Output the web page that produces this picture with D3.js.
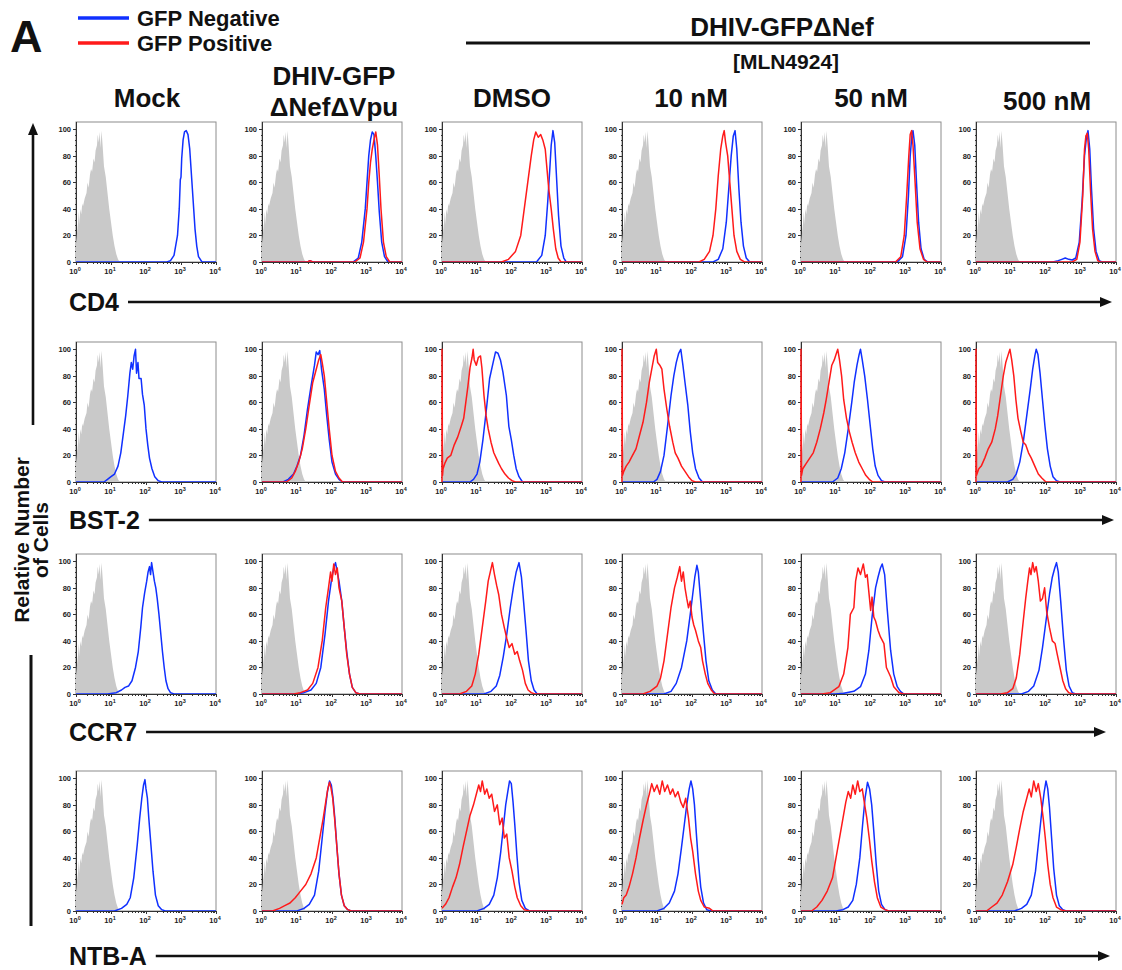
<!DOCTYPE html>
<html>
<head>
<meta charset="utf-8">
<script src="https://cdn.jsdelivr.net/npm/d3@7/dist/d3.min.js"></script>
<style>
  body { margin: 0; background: #fff; }
  svg text { font-family: "Liberation Sans", Arial, sans-serif; font-weight: bold; fill: #111; }
  .axis path, .axis line { stroke: #333; shape-rendering: crispEdges; }
  .axis text { font-size: 7.5px; fill: #222; }
</style>
</head>
<body>
<div id="graphic"></div>
<script>
// Row markers and column conditions
var markers = ['CD4', 'BST-2', 'CCR7', 'NTB-A'];
var conditions = ['Mock', 'DHIV-GFP\nΔNefΔVpu', 'DMSO', '10 nM', '50 nM', '500 nM'];
var legendLabels = ['GFP Negative', 'GFP Positive'];
var xTickExponents = [0, 1, 2, 3, 4];
var yTickValues = [0, 20, 40, 60, 80, 100];

// Histograms: [log10 fluorescence, % of max]
var isotypeControl = [[0,14],[0.03,22],[0.06,30],[0.08,38],[0.1,28],[0.12,40],[0.15,36],[0.18,44],[0.2,42],[0.25,48],[0.3,52],[0.33,60],[0.36,56],[0.4,66],[0.43,70],[0.46,68],[0.5,78],[0.53,75],[0.56,84],[0.6,88],[0.62,96],[0.65,90],[0.68,98],[0.7,86],[0.73,99],[0.76,88],[0.8,72],[0.85,64],[0.9,52],[0.95,40],[1.0,30],[1.05,20],[1.1,12],[1.15,6],[1.2,2],[1.25,0]];

var cd4Negative = [
  [[2.6,0],[2.7,1],[2.8,5],[2.9,20],[2.95,40],[2.98,62],[3.0,64],[3.02,78],[3.06,92],[3.1,98],[3.15,99],[3.2,96],[3.25,85],[3.3,65],[3.35,45],[3.4,25],[3.45,12],[3.5,4],[3.6,0]],
  [[1.3,0],[1.37,1],[1.45,0],[2.6,0],[2.75,3],[2.85,15],[2.95,40],[3.0,60],[3.05,80],[3.1,92],[3.15,98],[3.2,96],[3.25,80],[3.3,60],[3.35,38],[3.42,15],[3.5,4],[3.6,0]],
  [[2.7,0],[2.85,5],[2.95,20],[3.02,45],[3.08,70],[3.12,88],[3.17,99],[3.22,90],[3.27,65],[3.33,35],[3.4,12],[3.48,3],[3.55,0]],
  [[2.6,0],[2.75,2],[2.88,10],[2.98,30],[3.05,55],[3.12,80],[3.18,95],[3.23,99],[3.28,85],[3.34,55],[3.4,30],[3.47,12],[3.55,3],[3.65,0]],
  [[2.75,0],[2.9,4],[3.0,20],[3.07,50],[3.12,80],[3.17,96],[3.2,99],[3.25,88],[3.3,60],[3.36,30],[3.43,10],[3.52,2],[3.62,0]],
  [[2.2,0],[2.35,1],[2.45,2],[2.55,3],[2.65,2],[2.75,1.5],[2.85,3],[2.95,15],[3.03,45],[3.1,80],[3.16,95],[3.2,99],[3.25,85],[3.3,55],[3.36,25],[3.43,8],[3.52,1],[3.6,0]]
];
var cd4Positive = [
  null,
  [[1.3,0],[1.37,1],[1.45,0],[2.65,0],[2.8,3],[2.9,15],[3.0,40],[3.05,60],[3.1,75],[3.15,85],[3.2,92],[3.25,98],[3.3,88],[3.35,65],[3.4,40],[3.47,15],[3.55,4],[3.65,0]],
  [[1.7,0],[1.9,2],[2.1,8],[2.25,20],[2.35,40],[2.45,60],[2.55,80],[2.62,92],[2.68,98],[2.75,94],[2.82,96],[2.88,92],[2.95,85],[3.0,70],[3.05,55],[3.12,40],[3.18,25],[3.25,10],[3.32,3],[3.4,0]],
  [[2.2,0],[2.35,2],[2.5,8],[2.6,20],[2.68,40],[2.75,65],[2.82,85],[2.88,95],[2.92,99],[2.96,90],[3.02,80],[3.08,60],[3.14,40],[3.2,20],[3.28,8],[3.38,2],[3.5,0]],
  [[2.7,0],[2.85,4],[2.95,20],[3.02,50],[3.08,80],[3.12,96],[3.16,99],[3.2,88],[3.26,60],[3.32,30],[3.4,10],[3.5,2],[3.6,0]],
  [[2.75,0],[2.88,2],[2.97,15],[3.05,50],[3.1,85],[3.14,95],[3.18,97],[3.22,85],[3.27,55],[3.33,25],[3.4,8],[3.48,1],[3.55,0]]
];

var bst2Negative = [
  [[0.8,0],[0.9,2],[1.0,4],[1.1,6],[1.2,12],[1.28,22],[1.36,38],[1.42,50],[1.48,65],[1.54,82],[1.58,90],[1.62,85],[1.66,95],[1.7,100],[1.73,82],[1.77,90],[1.8,78],[1.86,78],[1.9,66],[1.95,58],[2.0,40],[2.05,28],[2.1,18],[2.17,10],[2.25,4],[2.35,1],[2.45,0]],
  [[0.6,0],[0.75,2],[0.9,6],[1.0,12],[1.1,20],[1.2,35],[1.3,55],[1.4,72],[1.5,88],[1.55,98],[1.6,96],[1.65,99],[1.7,85],[1.78,70],[1.85,50],[1.92,32],[2.0,15],[2.1,6],[2.2,2],[2.3,0]],
  [[0.8,0],[0.9,2],[1.0,6],[1.08,15],[1.17,32],[1.27,55],[1.36,78],[1.46,90],[1.53,98],[1.6,97],[1.67,92],[1.74,83],[1.84,65],[1.91,42],[1.98,32],[2.05,20],[2.12,10],[2.2,4],[2.3,0]],
  [[0.9,0],[1.0,2],[1.1,8],[1.2,20],[1.3,42],[1.4,65],[1.48,80],[1.55,90],[1.62,97],[1.68,100],[1.74,88],[1.8,75],[1.88,58],[1.95,38],[2.02,22],[2.1,10],[2.2,3],[2.3,0]],
  [[0.9,0],[1.05,3],[1.15,10],[1.25,22],[1.35,40],[1.45,60],[1.52,75],[1.6,88],[1.66,96],[1.7,100],[1.75,92],[1.82,80],[1.9,62],[1.98,42],[2.05,25],[2.12,12],[2.2,5],[2.3,1],[2.4,0]],
  [[0.9,0],[1.05,2],[1.15,6],[1.25,15],[1.35,30],[1.45,50],[1.55,70],[1.62,85],[1.68,95],[1.72,100],[1.77,96],[1.83,82],[1.9,62],[1.97,42],[2.04,25],[2.12,12],[2.2,4],[2.3,1],[2.4,0]]
];
var bst2Positive = [
  null,
  [[0.7,0],[0.85,3],[0.95,8],[1.05,15],[1.15,25],[1.25,40],[1.35,58],[1.45,75],[1.55,85],[1.62,92],[1.68,96],[1.72,90],[1.78,80],[1.85,60],[1.92,40],[2.0,20],[2.1,8],[2.2,3],[2.3,0]],
  [[0,0],[0,100],[0.015,5],[0.03,10],[0.08,14],[0.15,18],[0.25,20],[0.35,28],[0.45,34],[0.55,42],[0.62,48],[0.68,60],[0.74,72],[0.8,86],[0.86,94],[0.89,100],[0.92,92],[0.98,88],[1.04,94],[1.1,95],[1.14,86],[1.2,65],[1.26,50],[1.32,40],[1.4,30],[1.48,22],[1.55,18],[1.62,14],[1.7,10],[1.8,6],[1.9,3],[2.0,1],[2.1,0]],
  [[0,0],[0,100],[0.015,5],[0.05,8],[0.12,12],[0.2,15],[0.3,20],[0.4,25],[0.5,35],[0.6,45],[0.7,60],[0.78,75],[0.85,85],[0.92,95],[0.98,100],[1.02,90],[1.08,88],[1.14,85],[1.2,70],[1.28,55],[1.36,42],[1.45,30],[1.52,22],[1.6,18],[1.7,12],[1.8,8],[1.9,4],[2.0,1],[2.1,0]],
  [[0,0],[0,100],[0.015,5],[0.05,10],[0.15,14],[0.25,18],[0.35,22],[0.45,30],[0.55,40],[0.65,52],[0.72,62],[0.8,75],[0.88,88],[0.95,92],[1.0,96],[1.05,100],[1.1,92],[1.16,80],[1.22,62],[1.3,48],[1.38,38],[1.46,30],[1.55,22],[1.65,15],[1.75,10],[1.85,5],[1.95,2],[2.05,0]],
  [[0,0],[0,100],[0.015,5],[0.08,10],[0.15,12],[0.25,18],[0.35,25],[0.45,30],[0.55,40],[0.62,50],[0.7,65],[0.78,80],[0.85,90],[0.92,96],[0.97,100],[1.02,92],[1.08,80],[1.14,62],[1.2,48],[1.28,38],[1.35,30],[1.42,28],[1.5,22],[1.58,18],[1.68,12],[1.78,6],[1.88,3],[2.0,0]]
];

var ccr7Negative = [
  [[0.9,0],[1.15,1],[1.3,3],[1.4,5],[1.5,6],[1.6,10],[1.7,20],[1.78,32],[1.85,50],[1.9,65],[1.96,76],[2.02,85],[2.06,92],[2.1,96],[2.13,90],[2.16,99],[2.2,92],[2.24,85],[2.28,80],[2.32,72],[2.37,60],[2.42,46],[2.47,32],[2.52,20],[2.57,10],[2.63,4],[2.7,1],[2.8,0]],
  [[1.0,0],[1.2,1],[1.4,3],[1.55,8],[1.68,20],[1.8,45],[1.9,70],[1.98,85],[2.05,95],[2.1,99],[2.15,92],[2.2,85],[2.28,70],[2.35,50],[2.42,32],[2.5,15],[2.58,5],[2.68,1],[2.8,0]],
  [[1.2,0],[1.4,2],[1.55,6],[1.65,14],[1.75,28],[1.85,45],[1.95,65],[2.05,82],[2.12,92],[2.2,99],[2.27,88],[2.33,70],[2.4,48],[2.47,25],[2.55,10],[2.63,3],[2.72,0]],
  [[1.2,0],[1.4,2],[1.55,8],[1.7,20],[1.85,40],[1.95,60],[2.02,75],[2.08,88],[2.14,97],[2.18,92],[2.25,70],[2.32,48],[2.4,25],[2.48,10],[2.58,3],[2.68,0]],
  [[0.98,0],[1.22,0.5],[1.51,2],[1.7,5.5],[1.84,15],[1.94,33],[2.03,58],[2.13,80],[2.2,88],[2.27,95],[2.32,98],[2.39,90],[2.46,65],[2.56,33],[2.65,15],[2.75,5.5],[2.84,2],[2.94,0]],
  [[1.3,0],[1.5,2],[1.65,6],[1.8,18],[1.9,35],[2.0,55],[2.1,75],[2.18,88],[2.25,95],[2.3,99],[2.35,92],[2.42,70],[2.5,42],[2.58,18],[2.66,6],[2.75,1],[2.85,0]]
];
var ccr7Positive = [
  null,
  [[0.9,0],[1.1,1],[1.3,3],[1.45,8],[1.6,20],[1.72,40],[1.82,65],[1.9,80],[1.96,92],[2.0,85],[2.05,98],[2.1,90],[2.15,95],[2.2,80],[2.28,70],[2.35,50],[2.42,30],[2.5,15],[2.58,5],[2.68,1],[2.8,0]],
  [[0.5,0],[0.7,2],[0.85,6],[0.95,15],[1.05,30],[1.15,50],[1.25,70],[1.32,85],[1.38,92],[1.44,99],[1.5,90],[1.56,82],[1.62,75],[1.7,60],[1.78,50],[1.85,42],[1.92,35],[2.0,38],[2.08,30],[2.15,32],[2.22,25],[2.3,18],[2.38,8],[2.46,3],[2.55,1],[2.65,0]],
  [[0.6,0],[0.8,2],[1.0,6],[1.1,12],[1.2,25],[1.3,45],[1.4,65],[1.5,80],[1.58,88],[1.65,96],[1.7,85],[1.75,92],[1.8,80],[1.85,72],[1.9,65],[1.95,70],[2.0,58],[2.05,52],[2.1,48],[2.18,40],[2.25,35],[2.3,25],[2.38,15],[2.45,8],[2.55,3],[2.65,0]],
  [[0.6,0],[0.84,1],[1.08,5.5],[1.22,15],[1.34,35],[1.41,60],[1.51,65],[1.56,85],[1.63,95],[1.7,90],[1.78,98],[1.84,88],[1.89,90],[1.99,63],[2.03,73],[2.08,58],[2.13,55],[2.2,48],[2.27,43],[2.37,38],[2.44,20],[2.56,13],[2.65,5.5],[2.8,1],[2.94,0]],
  [[0.7,0],[0.9,1],[1.05,4],[1.15,12],[1.25,30],[1.35,55],[1.42,72],[1.48,85],[1.53,95],[1.57,90],[1.62,99],[1.67,92],[1.72,96],[1.78,85],[1.84,70],[1.9,72],[1.96,80],[2.02,62],[2.1,50],[2.18,40],[2.26,38],[2.32,30],[2.4,20],[2.48,10],[2.56,4],[2.65,1],[2.75,0]]
];

var ntbaNegative = [
  [[1.1,0],[1.3,2],[1.45,5],[1.55,10],[1.65,25],[1.75,50],[1.82,70],[1.88,85],[1.93,95],[1.97,99],[2.0,92],[2.04,85],[2.08,70],[2.14,50],[2.2,30],[2.27,12],[2.35,4],[2.45,1],[2.55,0]],
  [[1.0,0],[1.2,2],[1.35,5],[1.5,12],[1.62,30],[1.72,55],[1.8,75],[1.87,90],[1.93,98],[1.98,95],[2.03,85],[2.08,70],[2.14,48],[2.2,28],[2.27,12],[2.35,4],[2.45,1],[2.55,0]],
  [[1.0,0],[1.2,2],[1.35,5],[1.48,12],[1.58,25],[1.68,45],[1.76,65],[1.82,80],[1.88,90],[1.93,98],[1.98,96],[2.03,82],[2.08,65],[2.14,42],[2.2,22],[2.28,8],[2.38,2],[2.5,0]],
  [[1.0,0],[1.2,2],[1.35,6],[1.5,15],[1.6,28],[1.7,48],[1.78,65],[1.85,80],[1.92,92],[1.97,98],[2.02,92],[2.07,80],[2.12,60],[2.18,38],[2.25,18],[2.33,6],[2.42,1],[2.55,0]],
  [[1.0,0],[1.2,1],[1.35,3],[1.48,8],[1.58,20],[1.68,40],[1.76,65],[1.83,85],[1.9,97],[1.96,92],[2.02,80],[2.08,60],[2.15,35],[2.22,15],[2.3,5],[2.4,1],[2.5,0]],
  [[1.1,0],[1.3,2],[1.45,5],[1.58,12],[1.7,30],[1.8,55],[1.88,75],[1.95,90],[2.0,98],[2.05,92],[2.1,78],[2.16,55],[2.22,32],[2.3,12],[2.38,4],[2.48,1],[2.58,0]]
];
var ntbaPositive = [
  null,
  [[0.3,0],[0.5,2],[0.65,4],[0.8,6],[0.95,10],[1.1,15],[1.25,20],[1.4,28],[1.55,40],[1.65,55],[1.75,70],[1.82,82],[1.88,92],[1.93,97],[1.97,93],[2.02,85],[2.08,68],[2.14,48],[2.2,28],[2.27,12],[2.35,4],[2.45,1],[2.55,0]],
  [[0,2],[0.1,5],[0.2,10],[0.3,18],[0.4,25],[0.5,35],[0.6,48],[0.7,60],[0.8,72],[0.9,80],[0.98,88],[1.05,95],[1.1,90],[1.15,98],[1.22,88],[1.28,92],[1.35,85],[1.42,88],[1.5,75],[1.58,80],[1.65,65],[1.72,70],[1.78,55],[1.85,58],[1.92,40],[2.0,30],[2.08,18],[2.15,10],[2.25,4],[2.35,1],[2.5,0]],
  [[0,5],[0.05,10],[0.12,12],[0.2,18],[0.3,28],[0.4,40],[0.5,55],[0.6,68],[0.7,80],[0.78,88],[0.85,96],[0.92,90],[1.0,95],[1.08,88],[1.15,98],[1.22,90],[1.3,95],[1.38,88],[1.45,92],[1.52,86],[1.6,90],[1.68,82],[1.75,78],[1.82,85],[1.9,70],[1.96,55],[2.02,45],[2.1,28],[2.18,15],[2.25,8],[2.35,3],[2.5,2],[2.6,0]],
  [[0.3,0],[0.45,3],[0.6,8],[0.75,15],[0.9,25],[1.0,40],[1.1,55],[1.2,70],[1.28,82],[1.35,90],[1.42,85],[1.48,95],[1.55,88],[1.62,98],[1.68,90],[1.75,92],[1.82,80],[1.88,70],[1.95,55],[2.02,38],[2.1,22],[2.18,10],[2.28,3],[2.4,1],[2.5,0]],
  [[0.3,0],[0.45,3],[0.6,6],[0.75,12],[0.9,22],[1.05,35],[1.15,48],[1.25,62],[1.35,75],[1.45,85],[1.52,92],[1.58,86],[1.65,98],[1.72,90],[1.78,96],[1.85,85],[1.92,70],[1.98,55],[2.05,35],[2.12,20],[2.2,10],[2.3,3],[2.42,1],[2.55,0]]
];

var negativeRows = [cd4Negative, bst2Negative, ccr7Negative, ntbaNegative];
var positiveRows = [cd4Positive, bst2Positive, ccr7Positive, ntbaPositive];

// Layout
var WIDTH = 1122;
var HEIGHT = 970;
var PANEL_W = 140;
var PANEL_H = 140;
var colLeft = [76, 262, 442, 622, 801, 976];
var rowTop = [122, 342, 554, 771];
var labelY = [302, 520, 732, 956];
var arrowEnd = [1112, 1114, 1106, 1110];
var NEG_COLOR = '#1030ff';
var POS_COLOR = '#ff1a1a';
var GRAY = '#c9c9c9';

var render = function () {
  var svg = d3.select('#graphic').append('svg')
    .attr('width', WIDTH)
    .attr('height', HEIGHT);

  var defs = svg.append('defs');
  defs.append('clipPath').attr('id', 'panel-clip')
    .append('rect').attr('x', -1).attr('y', -2).attr('width', PANEL_W + 1).attr('height', PANEL_H + 2);

  drawHeader(svg);

  var x = d3.scaleLog().domain([1, 1e4]).range([0, PANEL_W]);
  var y = d3.scaleLinear().domain([0, 105.5]).range([PANEL_H, 0]);

  markers.forEach(function (marker, r) {
    conditions.forEach(function (cond, c) {
      var g = svg.append('g')
        .attr('transform', 'translate(' + colLeft[c] + ',' + rowTop[r] + ')');
      drawPanel(g, x, y, negativeRows[r][c], positiveRows[r][c]);
    });
    drawRowLabel(svg, marker, labelY[r], arrowEnd[r]);
  });

  drawSideLabel(svg);
};

var drawPanel = function (g, x, y, neg, pos) {
  var px = function (d) { return x(Math.pow(10, d[0])); };
  var py = function (d) { return y(d[1]); };

  // frame
  g.append('rect')
    .attr('width', PANEL_W).attr('height', PANEL_H)
    .attr('fill', 'none').attr('stroke', '#8c8c8c').attr('stroke-width', 1);

  // y axis
  var yAxis = g.append('g').attr('class', 'axis')
    .call(d3.axisLeft(y).tickValues(yTickValues).tickSize(3).tickPadding(2));
  var yMinor = d3.range(0, 101, 4).filter(function (v) { return v % 20 !== 0; });
  g.append('g').attr('class', 'axis')
    .call(d3.axisLeft(y).tickValues(yMinor).tickSize(1.5).tickFormat(''))
    .select('.domain').remove();
  yAxis.select('.domain').attr('d', 'M0,0V' + PANEL_H);

  // x axis
  var xAxis = g.append('g').attr('class', 'axis')
    .attr('transform', 'translate(0,' + PANEL_H + ')')
    .call(d3.axisBottom(x)
      .tickValues(xTickExponents.map(function (e) { return Math.pow(10, e); }))
      .tickSize(3).tickFormat(''));
  xAxis.select('.domain').attr('d', 'M0,0H' + PANEL_W);
  var xMinor = [];
  for (var e = 0; e < 4; e++) {
    for (var m = 2; m < 10; m++) xMinor.push(m * Math.pow(10, e));
  }
  g.append('g').attr('class', 'axis')
    .attr('transform', 'translate(0,' + PANEL_H + ')')
    .call(d3.axisBottom(x).tickValues(xMinor).tickSize(1.5).tickFormat(''))
    .select('.domain').remove();

  var labels = g.append('g').attr('class', 'axis');
  xTickExponents.forEach(function (ex) {
    var t = labels.append('text')
      .attr('x', x(Math.pow(10, ex)) - 1)
      .attr('y', PANEL_H + 12)
      .attr('text-anchor', 'middle');
    t.append('tspan').text('10');
    t.append('tspan').attr('dy', -3).attr('font-size', '5.5px').text(ex);
  });

  // histograms, drawn over the axes
  var plot = g.append('g').attr('clip-path', 'url(#panel-clip)');

  var area = d3.area().x(px).y0(PANEL_H).y1(py);
  plot.append('path').datum(isotypeControl)
    .attr('d', area).attr('fill', GRAY);

  var line = d3.line().x(px).y(py);
  var withBaseline = function (pts) {
    var out = pts.slice();
    if (out[0][0] > 0) out.unshift([0, 0]);
    out.push([4, 0]);
    return out;
  };

  if (neg) {
    plot.append('path').datum(withBaseline(neg))
      .attr('d', line).attr('fill', 'none')
      .attr('stroke', NEG_COLOR).attr('stroke-width', 1.5)
      .attr('stroke-linejoin', 'round');
  }
  if (pos) {
    plot.append('path').datum(withBaseline(pos))
      .attr('d', line).attr('fill', 'none')
      .attr('stroke', POS_COLOR).attr('stroke-width', 1.5)
      .attr('stroke-linejoin', 'round');
  }
};

var drawArrow = function (svg, x1, y1, x2, y2) {
  var horizontal = y1 === y2;
  svg.append('line')
    .attr('x1', x1).attr('y1', y1)
    .attr('x2', horizontal ? x2 - 8 : x2).attr('y2', horizontal ? y2 : y2 + 8)
    .attr('stroke', '#111').attr('stroke-width', 2.6);
  var head = horizontal
    ? [[x2, y2], [x2 - 12, y2 - 5], [x2 - 12, y2 + 5]]
    : [[x2, y2], [x2 - 5, y2 + 12], [x2 + 5, y2 + 12]];
  svg.append('path')
    .attr('d', d3.line()(head) + 'Z')
    .attr('fill', '#111');
};

var drawRowLabel = function (svg, marker, yPos, xEnd) {
  var t = svg.append('text')
    .attr('x', 69).attr('y', yPos + 9)
    .attr('font-size', '25px')
    .text(marker);
  var w = t.node().getComputedTextLength();
  drawArrow(svg, 69 + w + 9, yPos, xEnd, yPos);
};

var drawSideLabel = function (svg) {
  drawArrow(svg, 33, 425, 33, 123);
  svg.append('line')
    .attr('x1', 31).attr('y1', 655).attr('x2', 31).attr('y2', 926)
    .attr('stroke', '#111').attr('stroke-width', 3);
  var g = svg.append('g').attr('transform', 'translate(0,540) rotate(-90)');
  g.append('text').attr('x', 0).attr('y', 29)
    .attr('text-anchor', 'middle').attr('font-size', '21px')
    .text('Relative Number');
  g.append('text').attr('x', 0).attr('y', 48)
    .attr('text-anchor', 'middle').attr('font-size', '21px')
    .text('of Cells');
};

var drawHeader = function (svg) {
  svg.append('text').attr('x', 10).attr('y', 52)
    .attr('font-size', '45px').text('A');

  var legendColors = [NEG_COLOR, POS_COLOR];
  legendLabels.forEach(function (label, i) {
    var ly = 18 + i * 25;
    svg.append('line')
      .attr('x1', 78).attr('x2', 129).attr('y1', ly).attr('y2', ly)
      .attr('stroke', legendColors[i]).attr('stroke-width', 3.5);
    svg.append('text').attr('x', 137).attr('y', ly + 8)
      .attr('font-size', '22px').text(label);
  });

  svg.append('text').attr('x', 782).attr('y', 36)
    .attr('text-anchor', 'middle').attr('font-size', '26px')
    .text('DHIV-GFPΔNef');
  svg.append('line')
    .attr('x1', 466).attr('x2', 1090).attr('y1', 43).attr('y2', 43)
    .attr('stroke', '#111').attr('stroke-width', 3);
  svg.append('text').attr('x', 786).attr('y', 69)
    .attr('text-anchor', 'middle').attr('font-size', '21px')
    .text('[MLN4924]');

  var titleX = [147, 334, 512, 691, 871, 1047];
  conditions.forEach(function (cond, c) {
    var lines = cond.split('\n');
    var t = svg.append('text')
      .attr('text-anchor', 'middle').attr('font-size', '26px');
    if (lines.length === 1) {
      t.attr('x', titleX[c]).attr('y', c === 5 ? 110 : 107).text(cond);
    } else {
      lines.forEach(function (ln, i) {
        t.append('tspan').attr('x', titleX[c]).attr('y', 85 + i * 31).text(ln);
      });
    }
  });
};

window.onload = render;
</script>
</body>
</html>
